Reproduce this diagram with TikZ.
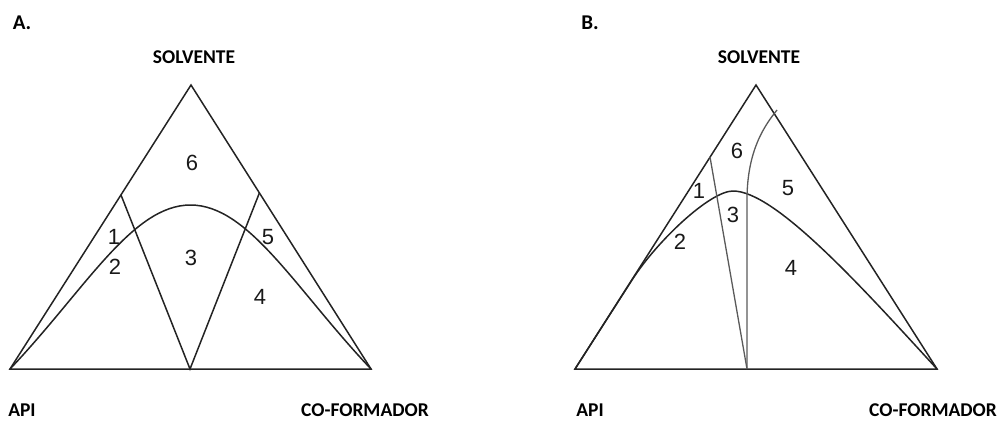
\documentclass[tikz,border=0pt]{standalone}
\usepackage{fontspec}
\setmainfont{Carlito}
\newfontfamily\digitfont{Liberation Sans}
\usetikzlibrary{calc}
\definecolor{inkBlack}{RGB}{25, 25, 25}
\definecolor{inkLine}{RGB}{35, 35, 35}
\definecolor{inkTie}{RGB}{90, 90, 90}

\tikzset{
    edgeLine/.style={draw=inkLine, line width=1.5pt, line join=miter},
    curveLine/.style={draw=inkLine, line width=1.5pt},
    tieLine/.style={draw=inkTie, line width=1.3pt},
    cornerLabel/.style={font=\fontsize{19.5pt}{22pt}\selectfont\bfseries, text=black, inner sep=0pt},
    panelLabel/.style={font=\fontsize{21pt}{23pt}\selectfont\bfseries, text=black, inner sep=0pt},
    regionNum/.style={font=\digitfont\fontsize{22pt}{24pt}\selectfont, text=inkBlack, inner sep=0pt}
}

\begin{document}
\begin{tikzpicture}[x=1pt, y=-1pt]
    \useasboundingbox (0,0) rectangle (998,421);

    % ---- panel A ----
    \coordinate (aApi) at (10,369);
    \coordinate (aCof) at (371,369);
    \coordinate (aSol) at (191,85);
    \coordinate (aMid) at (190,369);
    \coordinate (aPeak) at (190.5,205);
    \coordinate (aTieL) at ($(aApi)!0.613!(aSol)$);
    \coordinate (aTieR) at ($(aCof)!0.62!(aSol)$);

    \path[edgeLine] (aApi) -- (aSol) -- (aCof) -- cycle;
    \path[curveLine] (aApi) .. controls (85,290) and (132,205) .. (aPeak)
        .. controls (249,205) and (296,290) .. (aCof);
    \path[curveLine] (aTieL) -- (aMid) -- (aTieR);

    \node[panelLabel] (aTitle) at (22,23) {A.};
    \node[cornerLabel] (aSolLbl) at (194,57.5) {SOLVENTE};
    \node[cornerLabel] (aApiLbl) at (22,410.5) {API};
    \node[cornerLabel] (aCofLbl) at (365,410.5) {CO-FORMADOR};

    \node[regionNum] (aR1) at (114,237) {1};
    \node[regionNum] (aR2) at (115,267) {2};
    \node[regionNum] (aR3) at (191,258) {3};
    \node[regionNum] (aR4) at (260,297) {4};
    \node[regionNum] (aR5) at (268,237) {5};
    \node[regionNum] (aR6) at (192,163) {6};

    % ---- panel B ----
    \coordinate (bApi) at (575,369);
    \coordinate (bCof) at (937,369);
    \coordinate (bSol) at (756,85);
    \coordinate (bMid) at (747,369);
    \coordinate (bPeak) at (733,191);
    \coordinate (bTie) at ($(bApi)!0.746!(bSol)$);
    \coordinate (bBend) at (747,200);
    \coordinate (bTip) at (777,110);

    \path[edgeLine] (bApi) -- (bSol) -- (bCof) -- cycle;
    \path[curveLine] (bApi) -- (632,280) .. controls (657,241) and (710,191) .. (bPeak)
        .. controls (775,191) and (860,285) .. (bCof);
    \path[tieLine] (bTie) -- (bMid);
    \path[tieLine] (bMid) -- (bBend) .. controls (747,150) and (765,125) .. (bTip);

    \node[panelLabel] (bTitle) at (590,23) {B.};
    \node[cornerLabel] (bSolLbl) at (759,57.5) {SOLVENTE};
    \node[cornerLabel] (bApiLbl) at (590,410.5) {API};
    \node[cornerLabel] (bCofLbl) at (933,410.5) {CO-FORMADOR};

    \node[regionNum] (bR1) at (699,191) {1};
    \node[regionNum] (bR2) at (680,242) {2};
    \node[regionNum] (bR3) at (733,215) {3};
    \node[regionNum] (bR4) at (791,268) {4};
    \node[regionNum] (bR5) at (788,188) {5};
    \node[regionNum] (bR6) at (737,151) {6};
\end{tikzpicture}
\end{document}
